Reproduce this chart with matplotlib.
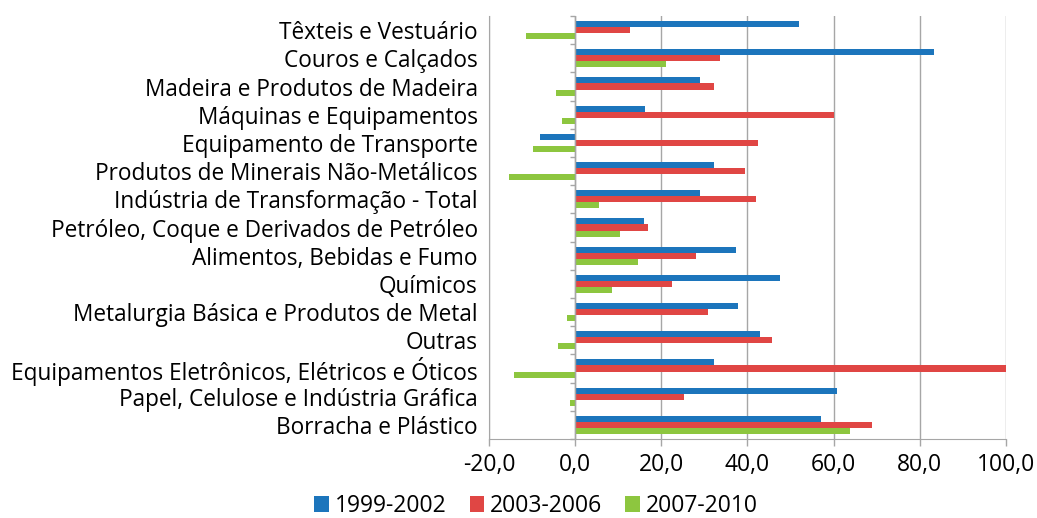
import numpy as np
import matplotlib
matplotlib.use("Agg")
import matplotlib.pyplot as plt
from matplotlib.ticker import FuncFormatter

plt.rcParams['font.family'] = ['Open Sans', 'DejaVu Sans']

setores = [
    "Têxteis e Vestuário",
    "Couros e Calçados",
    "Madeira e Produtos de Madeira",
    "Máquinas e Equipamentos",
    "Equipamento de Transporte",
    "Produtos de Minerais Não-Metálicos",
    "Indústria de Transformação - Total",
    "Petróleo, Coque e Derivados de Petróleo",
    "Alimentos, Bebidas e Fumo",
    "Químicos",
    "Metalurgia Básica e Produtos de Metal",
    "Outras",
    "Equipamentos Eletrônicos, Elétricos e Óticos",
    "Papel, Celulose e Indústria Gráfica",
    "Borracha e Plástico",
]
periodos = ["1999-2002", "2003-2006", "2007-2010"]

v_1999_2002 = [52.0, 83.2, 28.9, 16.3, -8.1, 32.2, 28.9, 16.0, 37.3, 47.5, 37.8, 42.8, 32.2, 60.7, 57.0]
v_2003_2006 = [12.7, 33.6, 32.2, 60.0, 42.5, 39.4, 42.0, 16.9, 28.0, 22.5, 30.8, 45.6, 100.0, 25.2, 68.9]
v_2007_2010 = [-11.3, 21.1, -4.5, -3.0, -9.8, -15.3, 5.5, 10.4, 14.7, 8.5, -2.0, -3.9, -14.3, -1.1, 63.7]

cores = ["#1c75bc", "#e04644", "#8dc63f"]
cinza = "#a6a6a6"
fs = 16.3

fig = plt.figure(figsize=(10.37, 5.18), dpi=100)
ax = fig.add_axes([0.4715, 0.1525, 0.4986, 0.8166])

n = len(setores)
y = np.arange(n)[::-1]
h = 0.215
series = [v_1999_2002, v_2003_2006, v_2007_2010]
for k, (vals, cor, lab) in enumerate(zip(series, cores, periodos)):
    ax.barh(y + (1 - k) * h, vals, height=h, color=cor, label=lab, zorder=3)

ax.set_xlim(-20, 100)
ax.set_ylim(-0.5, n - 0.5)
ax.set_xticks(np.arange(-20, 101, 20))
ax.xaxis.set_major_formatter(FuncFormatter(lambda v, p: f"{v:.1f}".replace(".", ",")))
ax.set_yticks(y)
ax.set_yticklabels(setores)
ax.tick_params(axis="y", length=0, pad=8, labelsize=fs)
ax.tick_params(axis="x", length=5, width=1, color=cinza, pad=5, labelsize=16.5)

ax.grid(axis="x", color=cinza, lw=1, zorder=0)
for s in ["top", "right"]:
    ax.spines[s].set_visible(False)
ax.spines["left"].set_color(cinza)
ax.spines["bottom"].set_color(cinza)

# eixo vertical no zero com marcas entre categorias
ax.axvline(0, color=cinza, lw=1, zorder=4)
ax.hlines(np.arange(n + 1) - 0.5, -1.3, 0, color=cinza, lw=1, zorder=4, clip_on=False)

fig.legend(loc="center", bbox_to_anchor=(0.517, 0.023), ncol=3, frameon=False,
           fontsize=16.5, handlelength=0.65, handleheight=0.65, handletextpad=0.25,
           columnspacing=1.0)

fig.savefig("out.png", dpi=100, facecolor="white")
